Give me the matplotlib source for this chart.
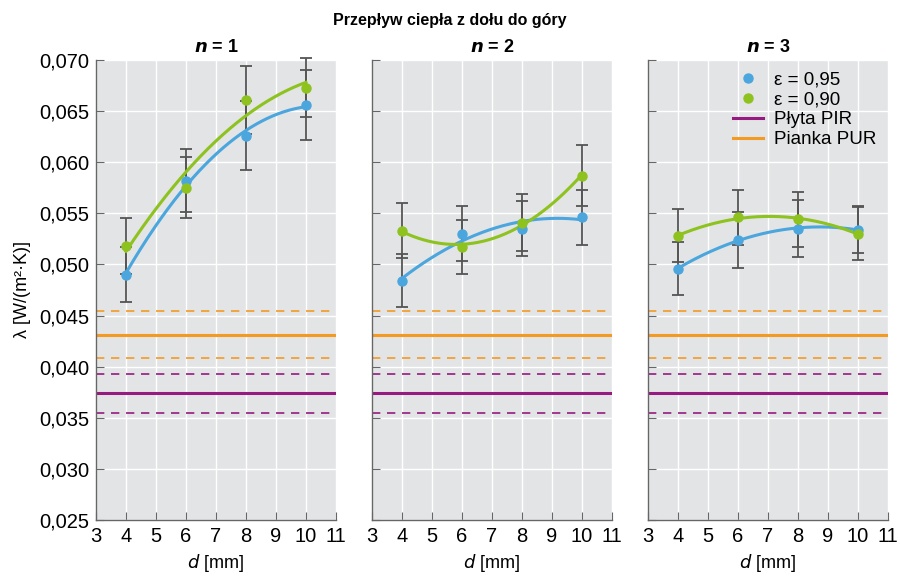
import numpy as np
import matplotlib
matplotlib.use("Agg")
import matplotlib.pyplot as plt
from matplotlib.ticker import FuncFormatter, MultipleLocator
from matplotlib.lines import Line2D

plt.rcParams['font.family'] = ['Liberation Sans', 'DejaVu Sans']

d = [4, 6, 8, 10]
panels = ["1", "2", "3"]
# epsilon = 0.95 (blue)
eps95 = [
    [0.0490, 0.0582, 0.0626, 0.0656],
    [0.0484, 0.0530, 0.0535, 0.0546],
    [0.0496, 0.0524, 0.0535, 0.0534],
]
err95 = [
    [0.0027, 0.0031, 0.0034, 0.0034],
    [0.0026, 0.0027, 0.0027, 0.0027],
    [0.0026, 0.0027, 0.0028, 0.0023],
]
# epsilon = 0.90 (green)
eps90 = [
    [0.0518, 0.0575, 0.0661, 0.0673],
    [0.0533, 0.0517, 0.0541, 0.0587],
    [0.0528, 0.0546, 0.0544, 0.0530],
]
err90 = [
    [0.0027, 0.0030, 0.0033, 0.0029],
    [0.0027, 0.0026, 0.0028, 0.0030],
    [0.0026, 0.0027, 0.0027, 0.0026],
]
pir_val, pir_err = 0.0374, 0.0019
pur_val, pur_err = 0.0431, 0.0023

c_blue = "#4ba6de"
c_green = "#8dc21f"
c_pir = "#951b81"
c_pur = "#f39a22"
c_err = "#555555"
bg = "#e3e4e5"

fig = plt.figure(figsize=(9, 5.77), dpi=100)
fig.text(0.5, 0.978, "Przepływ ciepła z dołu do góry", ha="center", va="top",
         fontsize=11.5, fontweight="bold")

left0 = 96 / 900
w = 240 / 900
step = 276 / 900
bottom = 1 - 520 / 577
h = 460 / 577

fmt = FuncFormatter(lambda v, p: f"{v:.3f}".replace(".", ","))
xs = np.linspace(4, 10, 200)

for i in range(3):
    ax = fig.add_axes([left0 + i * step, bottom, w, h])
    ax.set_facecolor(bg)
    ax.set_xlim(3, 11)
    ax.set_ylim(0.025, 0.070)
    ax.xaxis.set_major_locator(MultipleLocator(1))
    ax.yaxis.set_major_locator(MultipleLocator(0.005))
    ax.yaxis.set_major_formatter(fmt)
    ax.grid(True, color="white", lw=1.0)
    ax.set_axisbelow(True)
    for s in ["top", "right"]:
        ax.spines[s].set_visible(False)
    for s in ["left", "bottom"]:
        ax.spines[s].set_color("#666666")
        ax.spines[s].set_linewidth(1.0)
    ax.tick_params(direction="in", length=6, color="#666666", labelsize=14.5, pad=5)
    if i > 0:
        ax.tick_params(labelleft=False)
    else:
        ax.set_ylabel("λ [W/(m²·K)]", fontsize=13, labelpad=6)

    # reference lines
    ax.axhline(pur_val, color=c_pur, lw=2.2)
    ax.axhline(pur_val + pur_err, color=c_pur, lw=1.2, ls=(0, (5, 4)))
    ax.axhline(pur_val - pur_err, color=c_pur, lw=1.2, ls=(0, (5, 4)))
    ax.axhline(pir_val, color=c_pir, lw=2.2)
    ax.axhline(pir_val + pir_err, color=c_pir, lw=1.2, ls=(0, (5, 4)))
    ax.axhline(pir_val - pir_err, color=c_pir, lw=1.2, ls=(0, (5, 4)))

    for vals, errs, col in [(eps95[i], err95[i], c_blue), (eps90[i], err90[i], c_green)]:
        ax.errorbar(d, vals, yerr=errs, fmt="none", ecolor=c_err, elinewidth=1.3,
                    capsize=4, capthick=1.3, zorder=3, clip_on=False)
        coef = np.polyfit(d, vals, 2)
        ax.plot(xs, np.polyval(coef, xs), color=col, lw=2.2, zorder=4)
        ax.plot(d, vals, "o", color=col, ms=6.5, zorder=5, clip_on=False)

    ax.set_title(f"$\\boldsymbol{{n}}$ = {panels[i]}", fontsize=13, fontweight="bold", pad=6)
    ax.set_xlabel("$d$ [mm]", fontsize=13, labelpad=4)

    if i == 2:
        handles = [
            Line2D([], [], ls="none", marker="o", color=c_blue, ms=6.5),
            Line2D([], [], ls="none", marker="o", color=c_green, ms=6.5),
            Line2D([], [], color=c_pir, lw=2.2),
            Line2D([], [], color=c_pur, lw=2.2),
        ]
        ax.legend(handles, ["ε = 0,95", "ε = 0,90", "Płyta PIR", "Pianka PUR"],
                  loc="upper right", frameon=False, fontsize=13.5,
                  handlelength=1.6, handletextpad=0.6, labelspacing=0.15,
                  borderaxespad=0.2)

fig.savefig("out.png", dpi=100)
